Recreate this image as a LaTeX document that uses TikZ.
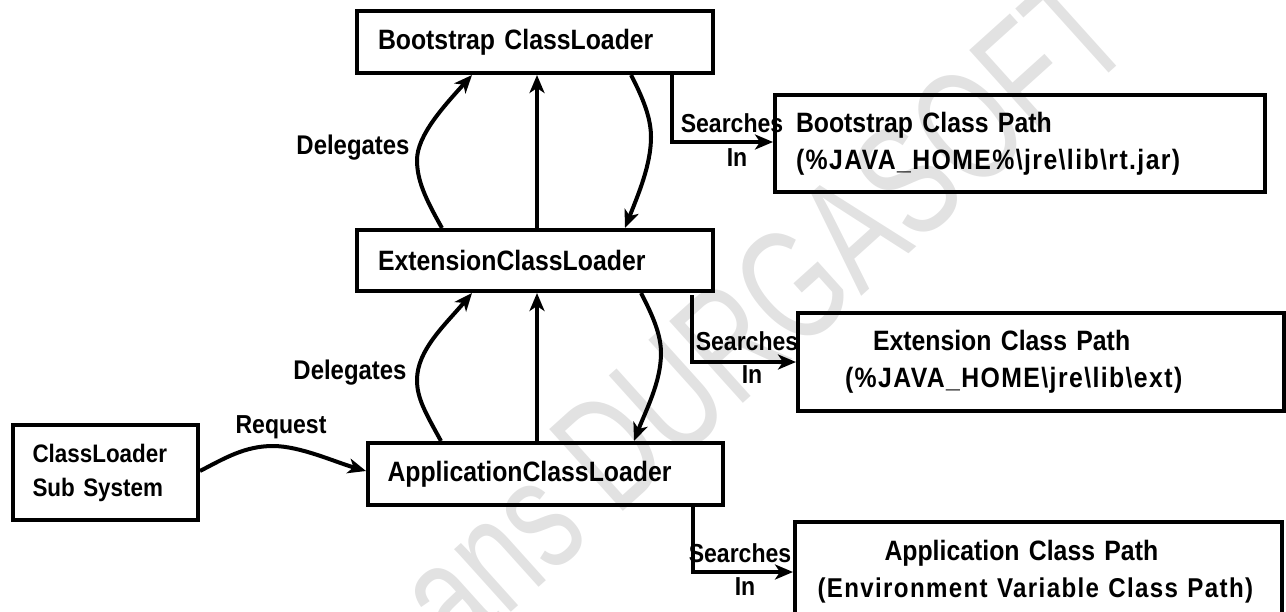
\documentclass[tikz,border=0pt]{standalone}
\usepackage{fontspec}
\setmainfont{Liberation Sans}[FakeStretch=0.886]
\newfontfamily\wmfont{Liberation Sans}[FakeStretch=0.7]
\newfontfamily\wide{Liberation Sans}[FakeStretch=0.886,LetterSpace=5]
\usetikzlibrary{arrows.meta}
\definecolor{wm}{HTML}{E2E2E2}
\tikzset{
  x=1pt,y=-1pt,
  box/.style={draw=black,line width=4pt,rectangle,inner sep=0pt,outer sep=2pt,align=left,font=\fontsize{28}{37}\selectfont\bfseries},
  subbox/.style={box,font=\fontsize{25.3}{34}\selectfont\bfseries},
  lab/.style={inner sep=0pt,font=\fontsize{26}{30}\selectfont\bfseries},
  dlab/.style={lab,font=\fontsize{27}{30}\selectfont\bfseries},
  conn/.style={line width=4pt,draw=black,-{Stealth[length=18pt,width=15pt,inset=5pt]}},
  wmark/.style={inner sep=0pt,text=wm,font=\fontsize{160}{160}\wmfont,rotate=42}
}
\newcommand{\bs}{\textbackslash}
\newcommand{\wl}[1]{{\wide\bfseries\fontsize{28}{37}\selectfont #1}}
\newcommand{\wls}[1]{{\wide\bfseries\fontsize{27.2}{37}\selectfont #1}}
\begin{document}
\begin{tikzpicture}
\useasboundingbox (0,0) rectangle (1286,611);
\clip (0,0) rectangle (1286,611);
\node[wmark] (wm) at (762,312) {ans DURGASOFT};
\node[box,minimum width=356pt,minimum height=62pt,text width=334pt] (boot) at (535,42) {\raisebox{-3pt}{\hspace*{10pt}Bootstrap ClassLoader}};
\node[box,minimum width=356pt,minimum height=61pt,text width=334pt] (ext) at (535,260.5) {\hspace*{10pt}ExtensionClassLoader};
\node[box,minimum width=355pt,minimum height=62pt,text width=334pt] (app) at (545.5,474) {\raisebox{-2pt}{\hspace*{9pt}ApplicationClassLoader}};
\node[subbox,minimum width=185pt,minimum height=95pt,text width=164pt] (sub) at (105.5,472.5) {\hspace*{9pt}ClassLoader\\\hspace*{9pt}Sub System};
\node[box,minimum width=490pt,minimum height=97pt,text width=468pt] (bootp) at (1020,143.5) {\raisebox{-2pt}{\hspace*{10pt}Bootstrap Class Path}\\\raisebox{-2pt}{\hspace*{10pt}\wl{(\%JAVA\_HOME\%\bs jre\bs lib\bs rt.jar)}}};
\node[box,minimum width=486pt,minimum height=98pt,text width=470pt] (extp) at (1041,362) {\hspace*{67pt}Extension Class Path\\\hspace*{39pt}\wl{(\%JAVA\_HOME\bs jre\bs lib\bs ext)}};
\node[box,minimum width=487pt,minimum height=100pt,text width=470pt,anchor=north] (appp) at (1038.5,520) {\hspace*{81pt}Application Class Path\\\hspace*{14pt}\wls{(Environment Variable Class Path)}};
\node[dlab] (d1) at (353,148) {Delegates};
\node[dlab] (d2) at (350,373) {Delegates};
\node[lab] (req) at (281,427) {Request};
\node[lab] (s1) at (732,123) {Searches};
\node[lab] (i1) at (737,158) {In};
\node[lab] (s2) at (747,341) {Searches};
\node[lab] (i2) at (752,375) {In};
\node[lab] (s3) at (740,553) {Searches};
\node[lab] (i3) at (745,587) {In};
% connectors
\draw[conn] (ext.north -| 442,0) .. controls (425,198) and (417,180) .. (417,160) .. controls (417,135) and (445,105) .. (boot.south -| 472,0);
\draw[conn] (ext.north -| 537,0) -- (boot.south -| 537,0);
\draw[conn] (boot.south -| 631,0) .. controls (643,98) and (651,118) .. (651,137) .. controls (651,165) and (638,195) .. (ext.north -| 625,0);
\draw[conn] (app.north -| 441,0) .. controls (425,412) and (417,398) .. (417,380) .. controls (417,350) and (445,325) .. (ext.south -| 472,0);
\draw[conn] (app.north -| 537,0) -- (ext.south -| 537,0);
\draw[conn] (ext.south -| 641,0) .. controls (653,316) and (661,335) .. (661,353) .. controls (661,382) and (646,410) .. (app.north -| 634,0);
\draw[conn] (sub.east |- 0,471) .. controls (225,458) and (245,446) .. (273,446) .. controls (300,446) and (335,462) .. (app.west |- 0,471);
\draw[conn] (boot.south -| 672,0) |- (bootp.west |- 0,142);
\draw[conn] (692,295) |- (extp.west |- 0,362);
\draw[conn] (app.south -| 693,0) |- (appp.west |- 0,572);
\end{tikzpicture}
\end{document}
